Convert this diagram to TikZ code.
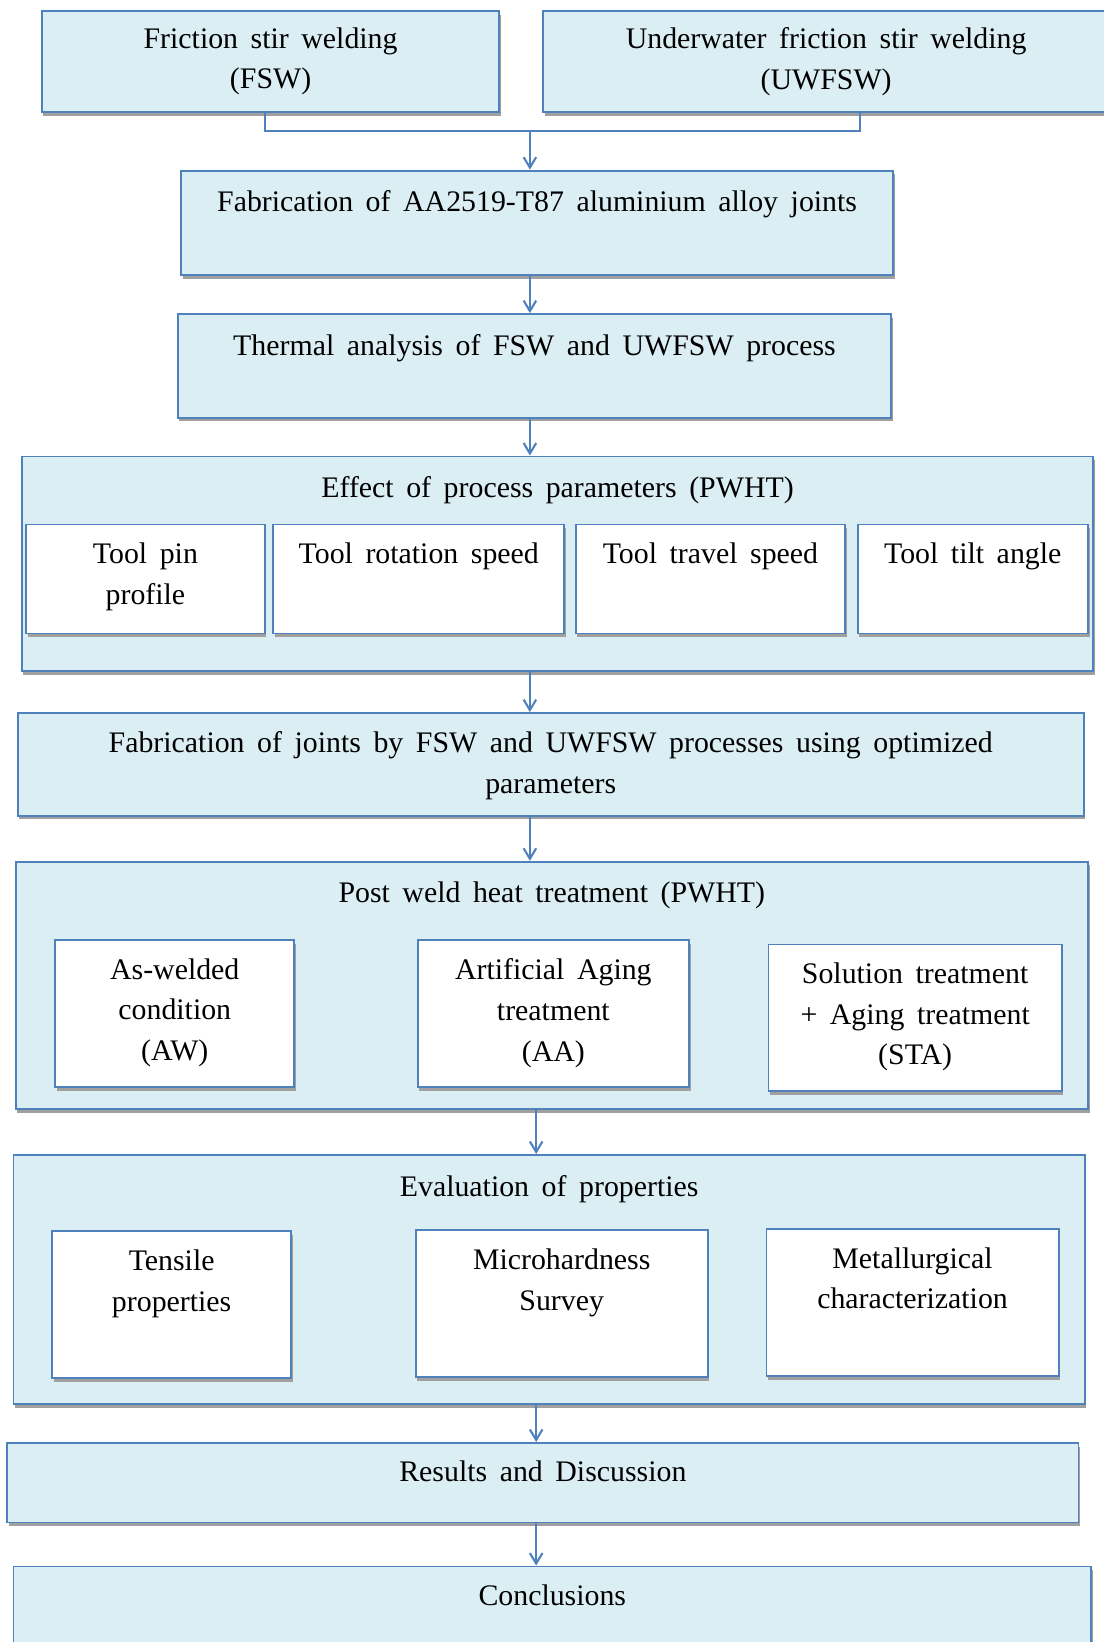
\documentclass[tikz,border=0pt]{standalone}
\usepackage{fontspec}
\setmainfont{Liberation Serif}
\usepackage{xcolor}
\usetikzlibrary{arrows.meta}
\usetikzlibrary{shadows, math}

\definecolor{boxfill}{HTML}{DBEEF4}
\definecolor{boxline}{HTML}{4F81BD}
\definecolor{boxshade}{HTML}{A0A0A0}

\newcommand{\lblfont}{\fontsize{28.5}{39}\selectfont\spaceskip=12pt plus 2pt minus 2pt\relax}

\tikzset{
  blk/.style={draw=boxline, line width=1.8pt, fill=boxfill, inner sep=0pt, anchor=north west,
    drop shadow={shadow xshift=1.5pt, shadow yshift=-3.5pt, fill=boxshade, opacity=1}},
  sub/.style={blk, fill=white},
  lbl/.style={anchor=north, align=center, inner sep=0pt, font=\lblfont},
  link/.style={draw=boxline, line width=2pt},
  arr/.style={link, -{Straight Barb[length=10pt,width=12pt]}},
}

\begin{document}
\begin{tikzpicture}[x=1pt, y=1pt]
\tikzmath{
\W=1054;
\H=1568;
\ty=-18;
}
\useasboundingbox (0,0) rectangle (\W,-\H);
\clip (0,0) rectangle (\W,-\H);

\coordinate (spA) at (506,0);
\coordinate (spB) at (512,0);

\node[blk, minimum width=437pt, minimum height=96pt] (fsw) at (39,-10) {};
\node[blk, minimum width=560pt, minimum height=96pt] (uw) at (518,-10) {};
\node[lbl, yshift=2pt] (fswt) at ([yshift=\ty]fsw.north) {Friction stir welding\\(FSW)};
\node[lbl, xshift=-10pt, yshift=2pt] (uwt) at ([yshift=\ty]uw.north) {Underwater friction stir welding\\(UWFSW)};

\node[blk, minimum width=680pt, minimum height=100pt] (fab) at (172,-162) {};
\node[lbl, yshift=-2pt] (fabt) at ([yshift=\ty]fab.north) {Fabrication of AA2519-T87 aluminium alloy joints};

\node[blk, minimum width=681pt, minimum height=99pt] (therm) at (169,-299) {};
\node[lbl, yshift=-2pt] (thermt) at ([yshift=\ty]therm.north) {Thermal analysis of FSW and UWFSW process};

\node[blk, minimum width=1023pt, minimum height=205pt] (effect) at (20,-435) {};
\node[lbl, yshift=-2pt] (effectt) at ([yshift=\ty]effect.north) {Effect of process parameters (PWHT)};
\node[sub, minimum width=228pt, minimum height=104pt] (pin) at (24,-500) {};
\node[sub, minimum width=278pt, minimum height=104pt] (rot) at (260,-500) {};
\node[sub, minimum width=257pt, minimum height=104pt] (trav) at (549,-500) {};
\node[sub, minimum width=220pt, minimum height=104pt] (tilt) at (818,-500) {};
\node[lbl] (pint) at ([yshift=\ty]pin.north) {Tool pin\\profile};
\node[lbl] (rott) at ([yshift=\ty]rot.north) {Tool rotation speed};
\node[lbl] (travt) at ([yshift=\ty]trav.north) {Tool travel speed};
\node[lbl] (tiltt) at ([yshift=\ty]tilt.north) {Tool tilt angle};

\node[blk, minimum width=1018pt, minimum height=98pt] (joints) at (16,-680) {};
\node[lbl] (jointst) at ([yshift=\ty]joints.north) {Fabrication of joints by FSW and UWFSW processes using optimized\\parameters};

\node[blk, minimum width=1024pt, minimum height=236pt] (pwht) at (14,-822) {};
\node[lbl, yshift=-2pt] (pwhtt) at ([yshift=\ty]pwht.north) {Post weld heat treatment (PWHT)};
\node[sub, minimum width=228pt, minimum height=140pt] (aw) at (52,-897) {};
\node[sub, minimum width=259pt, minimum height=140pt] (aa) at (398,-897) {};
\node[sub, minimum width=280pt, minimum height=140pt] (sta) at (733,-901) {};
\node[lbl] (awt) at ([yshift=\ty]aw.north) {As-welded\\condition\\(AW)};
\node[lbl] (aat) at ([yshift=\ty]aa.north) {Artificial Aging\\treatment\\(AA)};
\node[lbl] (stat) at ([yshift=\ty]sta.north) {Solution treatment\\+ Aging treatment\\(STA)};

\node[blk, minimum width=1023pt, minimum height=238pt] (eval) at (12,-1102) {};
\node[lbl, yshift=-2pt] (evalt) at ([yshift=\ty]eval.north) {Evaluation of properties};
\node[sub, minimum width=228pt, minimum height=140pt] (tens) at (49,-1175) {};
\node[sub, minimum width=279pt, minimum height=140pt] (micro) at (396,-1174) {};
\node[sub, minimum width=279pt, minimum height=140pt] (met) at (731,-1173) {};
\node[lbl] (tenst) at ([yshift=\ty]tens.north) {Tensile\\properties};
\node[lbl] (microt) at ([yshift=\ty]micro.north) {Microhardness\\Survey};
\node[lbl] (mett) at ([yshift=\ty]met.north) {Metallurgical\\characterization};

\node[blk, minimum width=1023pt, minimum height=76pt] (res) at (6,-1377) {};
\node[lbl] (rest) at ([yshift=\ty]res.north) {Results and Discussion};

\node[blk, minimum width=1029pt, minimum height=100pt] (concl) at (12,-1495) {};
\node[lbl] (conclt) at ([yshift=\ty]concl.north) {Conclusions};

\coordinate (fswout) at (253,-106);
\coordinate (uwout) at (821,-106);
\coordinate (join) at (506,-125);
\draw[link] (fswout) |- (join) -| (uwout);
\draw[arr] (join) -- (fab.north -| join);

\draw[arr] (fab.south -| spA) -- (therm.north -| spA);
\draw[arr] (therm.south -| spA) -- (effect.north -| spA);
\draw[arr] (effect.south -| spA) -- (joints.north -| spA);
\draw[arr] (joints.south -| spA) -- (pwht.north -| spA);
\draw[arr] (pwht.south -| spB) -- (eval.north -| spB);
\draw[arr] (eval.south -| spB) -- (res.north -| spB);
\draw[arr] (res.south -| spB) -- (concl.north -| spB);
\end{tikzpicture}
\end{document}
